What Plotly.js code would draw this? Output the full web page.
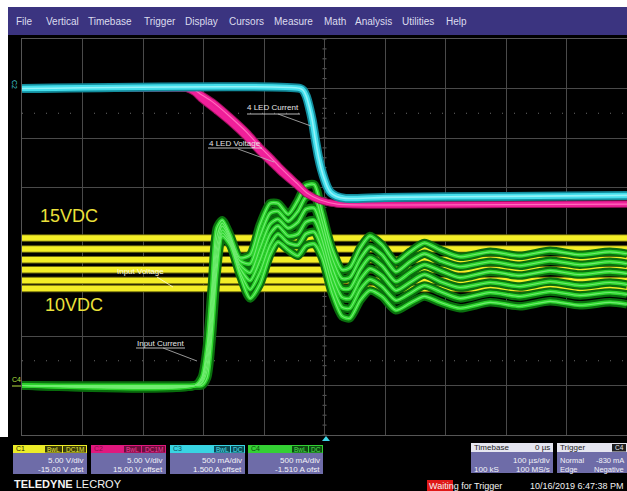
<!DOCTYPE html>
<html><head><meta charset="utf-8">
<script src="https://cdn.plot.ly/plotly-3.0.1.min.js"></script>
<style>html,body{margin:0;padding:0;background:#000;overflow:hidden;}</style>
</head><body><div id="chart" style="width:627px;height:491px;"></div>
<script>
// ================= DATA =================
// Channel settings: C1 input voltage, C2 LED voltage, C3 LED current, C4 input current
const channelNames  = ['C1', 'C2', 'C3', 'C4'];
const channelScale  = [5, 5, 0.5, 0.5];          // V/div, V/div, A/div, A/div
const channelOffset = [-15, 15, 1.5, -1.51];     // V, V, A, A
const channelScaleText  = ['5.00 V/div', '5.00 V/div', '500 mA/div', '500 mA/div'];
const channelOffsetText = ['-15.00 V ofst', '15.00 V offset', '1.500 A offset', '-1.510 A ofst'];
const channelCoupling   = [['BwL', 'DC1M'], ['BwL', 'DC1M'], ['BwL', 'DC'], ['BwL', 'DC']];

// C1: input voltage persistence levels (V)
const inputVoltageLevels = [14.9, 13.8, 12.7, 11.7, 10.6, 9.8];
const inputVoltageTime = [-500, 500];

// C3: 4 LED current (A) vs time (µs)
const ledCurrentTime = [-500, -40, -35, -30, -25, -20, -15, -10, -5, 0, 5, 10, 20, 35, 100, 300, 500];
const ledCurrent     = [0.00, 0.00, -0.02, -0.08, -0.19, -0.33, -0.52, -0.69, -0.82, -0.92, -1.00, -1.05, -1.09, -1.11, -1.10, -1.09, -1.08];

// C2: 4 LED voltage (V) vs time (µs), two persistence edges of the band
const ledVoltageTime = [-500, -300, -228, -215, -204, -184, -156, -128, -107, -90, -74, -57, -46, -29, -7, 21, 125, 500];
const ledVoltageA = [0, 0, 0, -0.15, -0.60, -1.40, -2.85, -4.45, -5.88, -6.90, -7.92, -8.93, -9.55, -10.56, -11.26, -11.67, -11.77, -11.67];
const ledVoltageB = [0, 0, 0, -0.40, -1.05, -2.00, -3.40, -5.00, -6.40, -7.40, -8.35, -9.25, -9.80, -10.70, -11.32, -11.67, -11.77, -11.67];

// C4: input current (A) vs time (µs), one persistence copy per input voltage
const inputCurrentTime = [-500, -214, -203, -194, -186, -178, -169, -156, -140, -123, -107, -90, -77, -60, -44, -31, -17, -4, 12, 29, 42, 59, 75, 95, 118, 141, 165, 191, 224, 274, 323, 373, 422, 472, 500];
const inputCurrent10V = [0.01, 0.01, 0.09, 0.42, 1.03, 1.60, 1.68, 1.53, 1.30, 1.33, 1.63, 1.85, 1.85, 1.74, 1.88, 2.03, 2.04, 1.76, 1.40, 1.18, 1.20, 1.40, 1.52, 1.43, 1.26, 1.36, 1.45, 1.38, 1.31, 1.36, 1.32, 1.37, 1.33, 1.36, 1.34];
const inputCurrent11V = [0.01, 0.01, 0.07, 0.35, 0.93, 1.51, 1.65, 1.51, 1.27, 1.24, 1.51, 1.75, 1.77, 1.67, 1.77, 1.91, 1.92, 1.67, 1.31, 1.09, 1.10, 1.29, 1.41, 1.33, 1.16, 1.26, 1.34, 1.27, 1.21, 1.26, 1.22, 1.27, 1.23, 1.26, 1.24];
const inputCurrent12V = [0.01, 0.01, 0.06, 0.29, 0.83, 1.42, 1.62, 1.49, 1.23, 1.15, 1.39, 1.64, 1.69, 1.60, 1.66, 1.79, 1.80, 1.58, 1.22, 0.99, 0.99, 1.18, 1.30, 1.22, 1.06, 1.15, 1.23, 1.17, 1.10, 1.16, 1.12, 1.17, 1.13, 1.16, 1.14];
const inputCurrent13V = [0.01, 0.01, 0.04, 0.22, 0.72, 1.34, 1.58, 1.47, 1.20, 1.07, 1.27, 1.54, 1.62, 1.52, 1.54, 1.66, 1.68, 1.48, 1.13, 0.90, 0.89, 1.08, 1.19, 1.12, 0.97, 1.05, 1.13, 1.06, 1.00, 1.05, 1.01, 1.06, 1.02, 1.05, 1.03];
const inputCurrent14V = [0.01, 0.01, 0.03, 0.16, 0.62, 1.25, 1.55, 1.45, 1.16, 0.98, 1.15, 1.43, 1.54, 1.45, 1.43, 1.54, 1.56, 1.39, 1.04, 0.80, 0.79, 0.98, 1.08, 1.01, 0.87, 0.94, 1.02, 0.96, 0.89, 0.95, 0.91, 0.96, 0.92, 0.95, 0.93];
const inputCurrent15V = [0.01, 0.01, 0.01, 0.09, 0.52, 1.16, 1.52, 1.43, 1.13, 0.89, 1.03, 1.33, 1.46, 1.38, 1.32, 1.42, 1.44, 1.30, 0.95, 0.71, 0.69, 0.87, 0.97, 0.91, 0.77, 0.84, 0.91, 0.85, 0.79, 0.85, 0.81, 0.86, 0.82, 0.85, 0.83];

// Text content
const traceLabels = ['4 LED Current', '4 LED Voltage', 'Input Current', 'Input Voltage'];
const voltageTags = ['15VDC', '10VDC'];
const menuItems = ['File', 'Vertical', 'Timebase', 'Trigger', 'Display', 'Cursors', 'Measure', 'Math', 'Analysis', 'Utilities', 'Help'];
const timebaseText = ['Timebase', '0 µs', '100 µs/div', '100 kS', '100 MS/s'];
const triggerText = ['Trigger', 'C4', 'Normal', '-830 mA', 'Edge', 'Negative'];
const statusText = ['Waiting for Trigger', '10/16/2019 6:47:38 PM'];

// ================= RENDERING =================
const FONT = 'Liberation Sans, Arial, sans-serif';
const L = 22, T = 39, PW = 605, PH = 396;
const px = x => (x - L) / PW;
const py = y => (T + PH - y) / PH;
const toDiv = (arr, ch) => arr.map(v => (v + channelOffset[ch]) / channelScale[ch]);

const shapes = [], annotations = [];
function rect(x0, y0, x1, y1, fill, extra) {
  shapes.push(Object.assign({type: 'rect', xref: 'paper', yref: 'paper', x0: px(x0), x1: px(x1), y0: py(y1), y1: py(y0),
    fillcolor: fill, line: {width: 0}, layer: 'above'}, extra || {}));
}
function seg(x0, y0, x1, y1, color, width) {
  shapes.push({type: 'line', xref: 'paper', yref: 'paper', x0: px(x0), y0: py(y0), x1: px(x1), y1: py(y1),
    line: {color: color, width: width || 1}, layer: 'above'});
}
function txt(x, y, text, size, color, anchor, extra) {
  annotations.push(Object.assign({xref: 'paper', yref: 'paper', x: px(x), y: py(y), text: text, showarrow: false,
    xanchor: anchor || 'left', yanchor: 'middle', borderpad: 0, font: {size: size, color: color, family: FONT}}, extra || {}));
}

// frame: white border, menu bar
rect(0, 0, 627, 7, '#ffffff');
rect(0, 0, 8, 437, '#ffffff');
rect(8, 7, 627, 35, '#3b3480');
const menuX = [15, 45, 87, 143, 184, 228, 273, 323, 354, 401, 445];
menuItems.forEach((m, i) => txt(menuX[i], 21, m, 10, '#dcdcee', 'left'));

// grid extras: dotted lines and centre tick marks
[2.5, -2.5].forEach(v => shapes.push({type: 'line', xref: 'paper', yref: 'y', x0: 0, x1: 1, y0: v, y1: v,
  line: {color: '#6a6a6a', width: 1, dash: '1px,11px'}, layer: 'below'}));
for (let k = -20; k <= 20; k++) {
  shapes.push({type: 'line', xref: 'x', yref: 'y', x0: -3.3, x1: 3.3, y0: k * 0.2, y1: k * 0.2,
    line: {color: '#5e5e5e', width: 1}, layer: 'below'});
}
for (let k = -25; k <= 25; k++) {
  shapes.push({type: 'line', xref: 'x', yref: 'y', x0: k * 20, x1: k * 20, y0: -0.04, y1: 0.04,
    line: {color: '#5e5e5e', width: 1}, layer: 'below'});
}

// traces
const traces = [];
const line = (x, y, color, width) => ({x: x, y: y, type: 'scatter', mode: 'lines', hoverinfo: 'skip',
  line: {color: color, width: width, shape: 'spline', smoothing: 0.7}});

inputVoltageLevels.forEach(v => {
  const d = toDiv([v, v], 0);
  traces.push(line(inputVoltageTime, d, '#6e6a0c', 7.5));
  traces.push(line(inputVoltageTime, d, '#f4ee26', 5.5));
});

const inputCurrentSeries = [inputCurrent10V, inputCurrent11V, inputCurrent12V, inputCurrent13V, inputCurrent14V, inputCurrent15V];
inputCurrentSeries.forEach(s => traces.push(line(inputCurrentTime, toDiv(s, 3), '#0a6e0e', 8.5)));
inputCurrentSeries.forEach(s => traces.push(line(inputCurrentTime, toDiv(s, 3), '#2cd42c', 4)));
inputCurrentSeries.forEach(s => traces.push(line(inputCurrentTime, toDiv(s, 3), '#70ec70', 1.1)));

[ledVoltageA, ledVoltageB].forEach(s => traces.push(line(ledVoltageTime, toDiv(s, 1), '#a0105e', 7)));
[ledVoltageA, ledVoltageB].forEach(s => traces.push(line(ledVoltageTime, toDiv(s, 1), '#f0209a', 5)));
traces.push(line(ledVoltageTime, toDiv(ledVoltageA, 1), '#ff6cbc', 1.2));

traces.push(line(ledCurrentTime, toDiv(ledCurrent, 2), '#138c9c', 9));
traces.push(line(ledCurrentTime, toDiv(ledCurrent, 2), '#44dfec', 5.5));
traces.push(line(ledCurrentTime, toDiv(ledCurrent, 2), '#92f3f9', 1.6));

// trace labels with underline and leader
const LBL = '#e6e6e6';
txt(273, 108, traceLabels[0], 8, LBL, 'center'); seg(247, 114, 300, 114, LBL, 0.8); seg(278, 114, 311, 126, '#bdbdbd', 0.8);
txt(235, 143, traceLabels[1], 8, LBL, 'center'); seg(208, 148, 262, 148, LBL, 0.8); seg(238, 149, 274, 162, '#bdbdbd', 0.8);
txt(160, 343, traceLabels[2], 8, LBL, 'center'); seg(136, 348, 185, 348, LBL, 0.8); seg(163, 348, 197, 361, '#bdbdbd', 0.8);
txt(140, 271, traceLabels[3], 8, '#fffbe0', 'center'); seg(157, 277, 173, 287, '#fffbe0', 0.8);
txt(69, 216, voltageTags[0], 18, '#ebe13a', 'center');
txt(74, 305, voltageTags[1], 18, '#ebe13a', 'center');

// ground markers
txt(15, 84, 'C2', 7, '#40c8d4', 'center', {textangle: 90});
txt(16, 379, 'C4', 7, '#b8e040', 'center');
seg(12, 386, 21, 386, '#b8e040', 1);

// trigger position marker
shapes.push({type: 'path', xref: 'paper', yref: 'paper', layer: 'above', fillcolor: '#40d8e8', line: {width: 0},
  path: `M ${px(322)} ${py(441)} L ${px(330)} ${py(441)} L ${px(326)} ${py(436)} Z`});

// channel boxes
const boxX = [[13, 87], [91, 166], [170, 245], [248, 323]];
const hdrFill = ['#ecec28', '#e0187e', '#38d4e2', '#34d034'];
const hdrText = ['#222200', '#8a0c4a', '#0a5560', '#0a4a0a'];
const badgeFill = ['#3a3a06', '#6e0c3c', '#0a4a54', '#0c4a10'];
const badgeText = ['#e8e840', '#f0409a', '#50e0ee', '#50e050'];
const BODY = '#6e6ca8';
boxX.forEach((b, i) => {
  rect(b[0], 445, b[1], 453, hdrFill[i]);
  rect(b[0], 453, b[1], 474, BODY);
  txt(b[0] + 2, 449, channelNames[i], 7, hdrText[i], 'left');
  const widths = channelCoupling[i][1].length > 2 ? [17, 23] : [16, 13];
  let xr = b[1] - 1;
  const bx = [];
  for (let k = 1; k >= 0; k--) { bx[k] = [xr - widths[k], xr]; xr -= widths[k] + 1; }
  channelCoupling[i].forEach((c, k) => {
    rect(bx[k][0], 446, bx[k][1], 452.5, badgeFill[i]);
    txt((bx[k][0] + bx[k][1]) / 2, 449.3, c, 6.5, badgeText[i], 'center');
  });
  txt(b[1] - 2, 460, channelScaleText[i], 8, '#f2f2f8', 'right');
  txt(b[1] - 2, 469, channelOffsetText[i], 8, '#f2f2f8', 'right');
});

// timebase box
rect(471, 443, 553, 452, '#e6e6f0');
rect(471, 452, 553, 473, BODY);
txt(473, 447.5, timebaseText[0], 8, '#222', 'left');
txt(551, 447.5, timebaseText[1], 8, '#222', 'right');
txt(551, 460, timebaseText[2], 8, '#f2f2f8', 'right');
txt(473, 469, timebaseText[3], 8, '#f2f2f8', 'left');
txt(551, 469, timebaseText[4], 8, '#f2f2f8', 'right');

// trigger box
rect(557, 443, 627, 452, '#e6e6f0');
rect(557, 452, 627, 473, BODY);
txt(559, 447.5, triggerText[0], 8, '#222', 'left');
rect(612, 444, 626, 451.5, '#202020');
txt(619, 447.8, triggerText[1], 6.5, '#e6e6f0', 'center');
txt(559, 460, triggerText[2], 7.5, '#f2f2f8', 'left');
txt(625, 460, triggerText[3], 7.5, '#f2f2f8', 'right');
txt(559, 469, triggerText[4], 7.5, '#f2f2f8', 'left');
txt(625, 469, triggerText[5], 7.5, '#f2f2f8', 'right');

// bottom status line
txt(13, 483.5, '<b>TELEDYNE</b> LECROY', 11, '#f4f4f4', 'left');
rect(427, 480, 453, 491, '#e01818');
txt(428, 485.5, statusText[0], 9, '#f4f4f4', 'left');
txt(625, 485.5, statusText[1], 9, '#f0f0f0', 'right');

const axisBase = {showgrid: true, gridcolor: '#4a4a4a', gridwidth: 1, zeroline: false, showticklabels: false,
  ticks: '', showline: true, linecolor: '#565656', linewidth: 1, mirror: true, fixedrange: true};
const layout = {
  width: 627, height: 491, margin: {l: L, r: 0, t: T, b: 491 - T - PH, pad: 0},
  paper_bgcolor: '#000', plot_bgcolor: '#000', showlegend: false,
  font: {family: FONT, color: '#fff'},
  xaxis: Object.assign({range: [-500, 500], dtick: 100, tick0: 0}, axisBase),
  yaxis: Object.assign({range: [-4, 4], dtick: 1, tick0: 0}, axisBase),
  shapes: shapes, annotations: annotations
};
Plotly.newPlot('chart', traces, layout, {staticPlot: true, displayModeBar: false});
</script></body></html>
